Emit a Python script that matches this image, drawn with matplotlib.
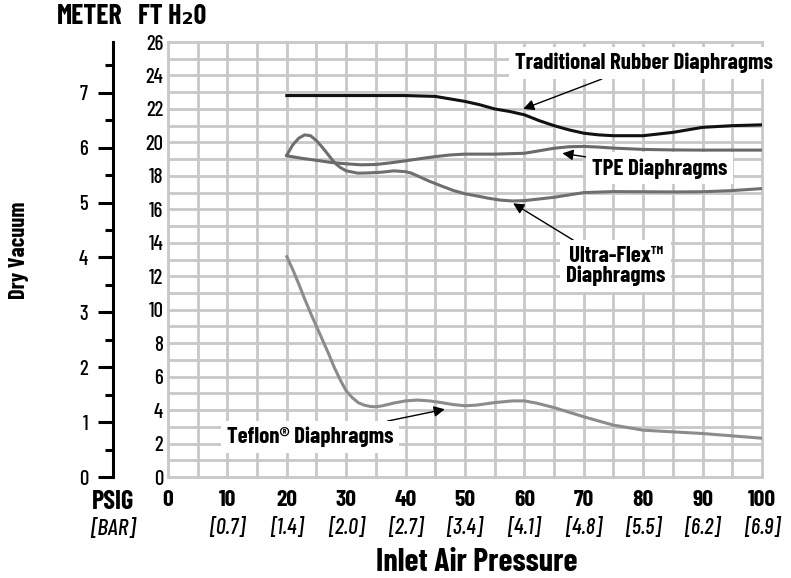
import matplotlib
matplotlib.use('Agg')
import matplotlib.pyplot as plt

plt.rcParams['font.family'] = ['Barlow Condensed', 'DejaVu Sans']

# x axis: inlet air pressure
psig_ticks = [0, 10, 20, 30, 40, 50, 60, 70, 80, 90, 100]
bar_labels = ['', '[0.7]', '[1.4]', '[2.0]', '[2.7]', '[3.4]', '[4.1]', '[4.8]', '[5.5]', '[6.2]', '[6.9]']
ft_ticks = list(range(0, 27, 2))
meter_ticks = [0, 1, 2, 3, 4, 5, 6, 7]

# curves (PSIG, FT H2O)
rubber_x = [20, 25, 30, 35, 40, 45, 47.5, 50, 52.5, 55, 57.5, 60, 62.5, 65, 67.5, 70, 72.5, 75,
            77.5, 80, 82.5, 85, 87.5, 90, 95, 100]
rubber_y = [22.8, 22.8, 22.8, 22.8, 22.8, 22.75, 22.6, 22.45, 22.25, 22.0, 21.85, 21.65, 21.3, 21.0,
            20.75, 20.55, 20.45, 20.4, 20.4, 20.4, 20.5, 20.6, 20.75, 20.9, 21.0, 21.05]

tpe_x = [20, 22.5, 25, 27.5, 30, 32.5, 35, 37.5, 40, 42.5, 45, 47.5, 50, 55, 60, 62.5, 65, 67.5,
         70, 72.5, 75, 80, 85, 90, 95, 100]
tpe_y = [19.2, 19.05, 18.93, 18.8, 18.72, 18.66, 18.68, 18.78, 18.9, 19.03, 19.15, 19.25, 19.3,
         19.3, 19.35, 19.5, 19.65, 19.74, 19.76, 19.72, 19.66, 19.58, 19.55, 19.54, 19.54, 19.54]

ultra_x = [20, 21, 22, 23, 24, 25, 26, 27, 28, 29, 30, 32, 34, 36, 38, 40, 41, 42, 44, 46, 48,
           50, 52, 54, 56, 58, 60, 62, 65, 70, 75, 80, 85, 90, 95, 100]
ultra_y = [19.24, 19.85, 20.25, 20.45, 20.4, 20.1, 19.7, 19.25, 18.8, 18.5, 18.3, 18.16, 18.18,
           18.22, 18.3, 18.25, 18.16, 18.0, 17.68, 17.4, 17.13, 16.93, 16.8, 16.66, 16.55, 16.5,
           16.52, 16.6, 16.72, 17.0, 17.06, 17.05, 17.04, 17.05, 17.12, 17.24]

teflon_x = [20, 21, 22, 23, 24, 25, 26, 27, 28, 29, 30, 31, 32, 33, 34, 35, 36, 38, 40, 42, 44,
            46, 48, 50, 52, 55, 58, 60, 62, 65, 70, 75, 80, 85, 90, 95, 100]
teflon_y = [13.17, 12.4, 11.55, 10.65, 9.8, 9.0, 8.2, 7.4, 6.55, 5.8, 5.15, 4.75, 4.45, 4.3, 4.22,
            4.2, 4.25, 4.42, 4.55, 4.6, 4.55, 4.45, 4.33, 4.26, 4.3, 4.45, 4.55, 4.55, 4.42, 4.15,
            3.6, 3.1, 2.8, 2.7, 2.6, 2.46, 2.32]

FT_PER_M = 3.281

fig = plt.figure(figsize=(7.91, 5.78), dpi=100)
ax = fig.add_axes([0.2124, 0.1747, 0.7509, 0.7526])

ax.set_xlim(0, 100)
ax.set_ylim(0, 26)
ax.set_xticks(psig_ticks)
ax.set_xticks(range(0, 101, 5), minor=True)
ax.set_yticks(ft_ticks)
ax.set_yticks(range(0, 27), minor=True)
ax.set_xticklabels([str(v) for v in psig_ticks], fontsize=17, fontweight='bold')
ax.set_yticklabels([str(v) for v in ft_ticks], fontsize=15, fontweight='medium')
ax.tick_params(axis='both', which='both', length=0)
ax.tick_params(axis='x', pad=9.5)
ax.tick_params(axis='y', pad=3.5)
ax.grid(True, which='both', color='#c8c8c8', lw=2.0)
ax.set_axisbelow(True)
for s in ax.spines.values():
    s.set_visible(False)
for axis in (ax.xaxis, ax.yaxis):
    for t in axis.get_major_ticks() + axis.get_minor_ticks():
        t.gridline.set_clip_on(False)

# bar row under the psig labels
for v, lab in zip(psig_ticks, bar_labels):
    ax.text(v, -0.117, lab, transform=ax.get_xaxis_transform(), ha='center', va='center',
            fontsize=16, fontstyle='italic', fontweight='medium')
ax.text(-0.0926, -0.057, 'PSIG', transform=ax.transAxes, ha='center', va='center',
        fontsize=19, fontweight='bold')
ax.text(-0.0926, -0.119, '[BAR]', transform=ax.transAxes, ha='center', va='center',
        fontsize=17, fontstyle='italic', fontweight='medium')
ax.text(0.52, -0.197, 'Inlet Air Pressure', transform=ax.transAxes, ha='center', va='center',
        fontsize=23, fontweight='bold')

# meter scale
sec = ax.secondary_yaxis(-0.0926, functions=(lambda f: f / FT_PER_M, lambda m: m * FT_PER_M))
sec.set_yticks(meter_ticks)
sec.set_yticks([m + 0.5 for m in meter_ticks], minor=True)
sec.spines['left'].set_linewidth(2.2)
sec.tick_params(which='major', direction='out', length=11, width=2.2, labelsize=15, pad=7)
sec.tick_params(which='minor', direction='out', length=6, width=2.2)
for lab in sec.get_yticklabels():
    lab.set_fontweight('medium')

fig.text(90 / 791, 1 - 17 / 578, 'METER', ha='center', va='center', fontsize=20, fontweight='bold')
fig.text(172 / 791, 1 - 17 / 578, 'FT H\u20820', ha='center', va='center', fontsize=20,
         fontweight='bold')
fig.text(19 / 791, 1 - 250 / 578, 'Dry Vacuum', rotation=90, ha='center', va='center',
         fontsize=16, fontweight='bold')

# curves
ax.plot(teflon_x, teflon_y, color='#8c8c8c', lw=2.2, zorder=3)
ax.plot(ultra_x, ultra_y, color='#6f6f6f', lw=2.2, zorder=3)
ax.plot(tpe_x, tpe_y, color='#6a6a6a', lw=2.2, zorder=3)
ax.plot(rubber_x, rubber_y, color='#111111', lw=2.2, zorder=4)

# labels
box = dict(boxstyle='square,pad=0.25', fc='white', ec='none')
arrow = dict(arrowstyle='-|>', color='black', lw=1, mutation_scale=16, shrinkA=0, shrinkB=0)
ax.annotate('Traditional Rubber Diaphragms', xy=(59.8, 22.0), xytext=(80.1, 24.74),
            ha='center', va='center', fontsize=16.5, fontweight='bold', bbox=box,
            arrowprops=arrow, annotation_clip=False, zorder=5)
ax.annotate('TPE Diaphragms', xy=(66.4, 19.35), xytext=(82.8, 18.45),
            ha='center', va='center', fontsize=16.5, fontweight='bold', bbox=box,
            arrowprops=arrow, zorder=5)
ax.annotate('Ultra-Flex\u2122\nDiaphragms', xy=(58.1, 16.36), xytext=(75.4, 12.6),
            ha='center', va='center', fontsize=16.5, fontweight='bold', bbox=box,
            arrowprops=arrow, linespacing=1.0, zorder=5)
ax.annotate('Teflon\u00ae Diaphragms', xy=(46.6, 4.05), xytext=(23.9, 2.39),
            ha='center', va='center', fontsize=16.5, fontweight='bold', bbox=box,
            arrowprops=arrow, zorder=5)

fig.savefig('out.png', dpi=100)
